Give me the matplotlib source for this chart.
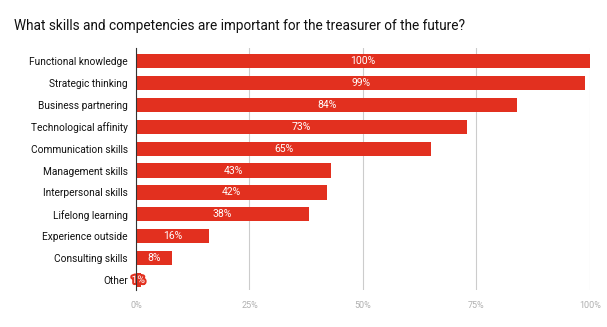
import matplotlib.pyplot as plt
import matplotlib.patheffects as pe
from matplotlib.ticker import FuncFormatter

plt.rcParams['font.family'] = ['Roboto', 'DejaVu Sans']

# skills and share of respondents (%)
skills = ["Functional knowledge", "Strategic thinking", "Business partnering",
          "Technological affinity", "Communication skills", "Management skills",
          "Interpersonal skills", "Lifelong learning", "Experience outside",
          "Consulting skills", "Other"]
values = [100, 99, 84, 73, 65, 43, 42, 38, 16, 8, 1]
ticks = [0, 25, 50, 75, 100]

bar_color = '#e2301f'

fig = plt.figure(figsize=(6.07, 3.27), dpi=100)
ax = fig.add_axes([0.224, 0.113, 0.748, 0.74])

pos = list(range(len(skills)))
bars = ax.barh(pos, values, height=0.65, color=bar_color, zorder=3)

# value labels inside the bars
for p, v in zip(pos, values):
    t = ax.text(v / 2, p, str(v) + "%", ha='center', va='center',
                color='white', fontsize=7.5, zorder=4)
    if v < 5:
        t.set_path_effects([pe.withStroke(linewidth=3, foreground=bar_color)])

ax.set_yticks(pos)
ax.set_yticklabels(skills, fontsize=7.3, color='#111111')
ax.set_ylim(10.46, -0.6)
ax.set_xlim(0, 100)
ax.set_xticks(ticks)
ax.xaxis.set_major_formatter(FuncFormatter(lambda x, _: "%d%%" % x))
ax.tick_params(axis='x', labelsize=6.5, colors='#b0b0b0', length=0, pad=8)
ax.tick_params(axis='y', length=0, pad=6)

ax.grid(axis='x', color='#cccccc', linewidth=0.8, zorder=0)
for s in ['top', 'right', 'bottom']:
    ax.spines[s].set_visible(False)
ax.spines['left'].set_color('#333333')
ax.spines['left'].set_linewidth(0.8)
ax.spines['left'].set_zorder(5)

fig.text(0.023, 0.922, "What skills and competencies are important for the treasurer of the future?",
         fontsize=9.8, color='#111111', va='center')

plt.savefig("out.png", dpi=100)
